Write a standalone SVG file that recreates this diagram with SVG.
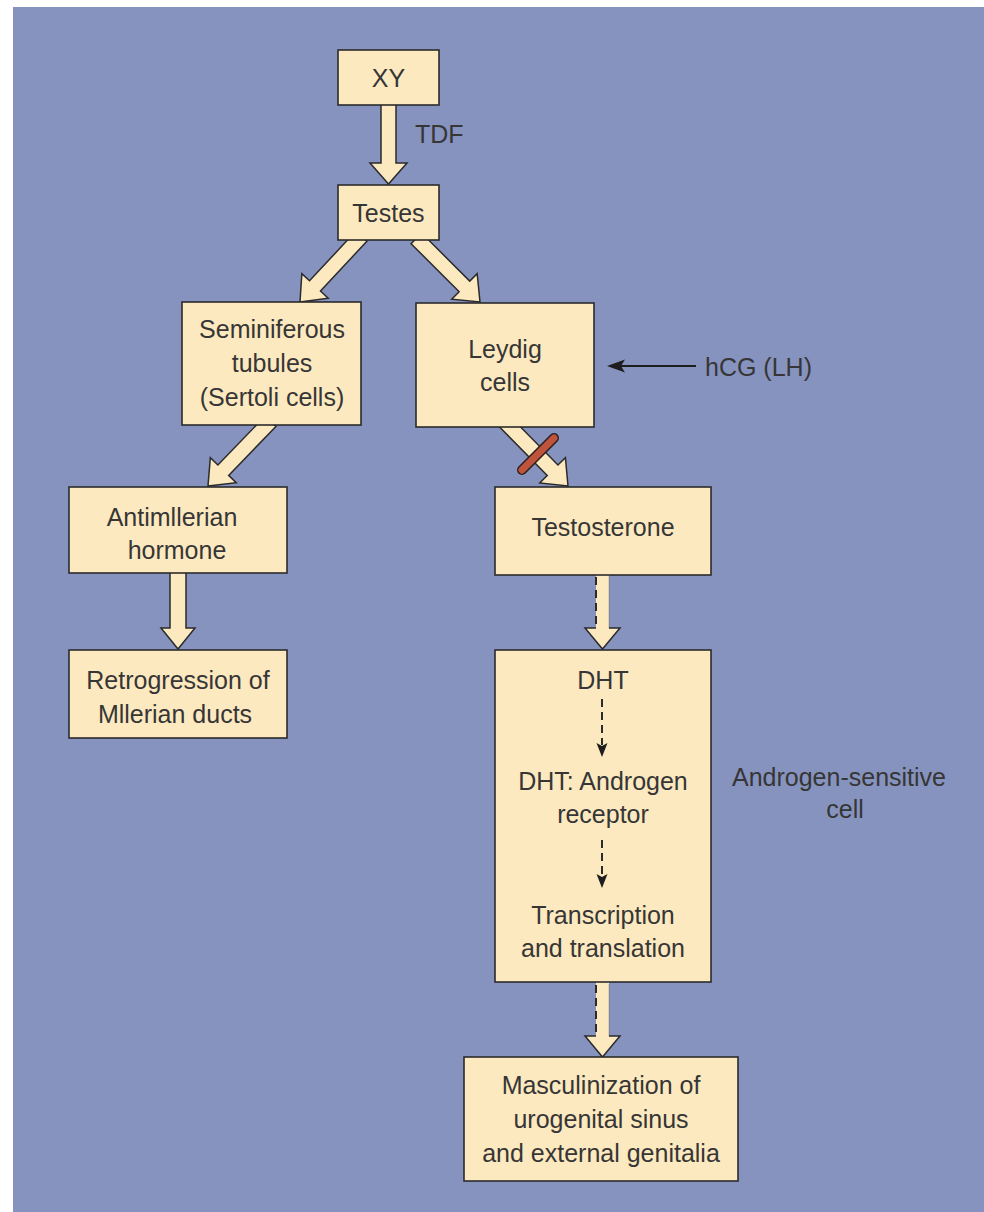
<svg xmlns="http://www.w3.org/2000/svg" width="984" height="1212" viewBox="0 0 984 1212">
<defs>
<style>
.box{fill:#fde9bf;stroke:#2b2b2b;stroke-width:1.6}
.arr{fill:#fde9bf;stroke:#2b2b2b;stroke-width:1.5;stroke-linejoin:miter}
.fillonly{fill:#fde9bf;stroke:none}
.edge{fill:none;stroke:#2b2b2b;stroke-width:1.5}
.dash{fill:none;stroke:#2b2b2b;stroke-width:2;stroke-dasharray:8 5}
.faint{fill:none;stroke:#2b2b2b;stroke-width:1;stroke-opacity:0.25}
.t{font-family:"Liberation Sans",Arial,sans-serif;font-size:25px;fill:#363636;text-anchor:middle}
.ts{font-family:"Liberation Sans",Arial,sans-serif;font-size:25px;fill:#363636;text-anchor:start}
.thin{fill:none;stroke:#1e1e1e;stroke-width:2}
</style>
<polygon id="bigArrow" points="0,0 -22,-18 -22,-7.5 -90,-7.5 -90,7.5 -22,7.5 -22,18"/>
</defs>
<rect x="0" y="0" width="984" height="1212" fill="#ffffff"/>
<rect x="13" y="7" width="971" height="1205" fill="#8793bf"/>

<g id="connectors">
  <!-- XY -> Testes -->
  <polygon class="arr" points="388.5,184 370,163 381,163 381,100 396,100 396,163 407,163"/>
  <!-- Testes -> Seminiferous -->
  <use href="#bigArrow" class="arr" transform="translate(300,302) rotate(133)"/>
  <!-- Testes -> Leydig -->
  <use href="#bigArrow" class="arr" transform="translate(480,302) rotate(45)"/>
  <!-- Seminiferous -> Antimullerian -->
  <use href="#bigArrow" class="arr" transform="translate(208,486) rotate(134)"/>
  <!-- Leydig -> Testosterone -->
  <use href="#bigArrow" class="arr" transform="translate(568,486) rotate(45.5)"/>
  <!-- Antimullerian -> Retrogression -->
  <polygon class="arr" points="178,649 161,628 170,628 170,568 186,568 186,628 195,628"/>
  <!-- Testosterone -> DHT (dashed) -->
  <polygon class="fillonly" points="602.5,649 585,628 596,628 596,570 609,570 609,628 620,628"/>
  <path class="edge" d="M596,628 L585,628 L602.5,649 L620,628 L609,628"/>
  <line class="dash" x1="596" y1="577" x2="596" y2="628"/>
  <line class="faint" x1="609" y1="576" x2="609" y2="628"/>
  <!-- DHT box -> Masculinization (dashed) -->
  <polygon class="fillonly" points="602.5,1057 585,1036 596,1036 596,978 609,978 609,1036 620,1036"/>
  <path class="edge" d="M596,1036 L585,1036 L602.5,1057 L620,1036 L609,1036"/>
  <line class="dash" x1="596" y1="985" x2="596" y2="1036"/>
  <line class="faint" x1="609" y1="984" x2="609" y2="1036"/>
  <!-- hCG -> Leydig -->
  <line class="thin" x1="618" y1="366" x2="696" y2="366"/>
  <polygon points="607,366 625,359.5 621,366 625,372.5" fill="#1e1e1e"/>
</g>

<!-- block bar on Leydig -> Testosterone -->
<line x1="522" y1="470" x2="554" y2="438" stroke="#2b1f1f" stroke-width="10" stroke-linecap="round"/>
<line x1="522" y1="470" x2="554" y2="438" stroke="#c0533b" stroke-width="7" stroke-linecap="round"/>

<g id="node-xy">
  <rect class="box" x="338" y="50" width="101" height="55"/>
  <text class="t" x="388.5" y="87">XY</text>
</g>
<text class="ts" x="415" y="143">TDF</text>

<g id="node-testes">
  <rect class="box" x="338" y="185" width="101" height="55"/>
  <text class="t" x="388.5" y="222">Testes</text>
</g>

<g id="node-seminiferous">
  <rect class="box" x="182" y="302" width="179" height="123"/>
  <text class="t" x="272" y="338">Seminiferous</text>
  <text class="t" x="272" y="372">tubules</text>
  <text class="t" x="272" y="406">(Sertoli cells)</text>
</g>

<g id="node-leydig">
  <rect class="box" x="416" y="303" width="178" height="124"/>
  <text class="t" x="505" y="358">Leydig</text>
  <text class="t" x="505" y="391">cells</text>
</g>

<g id="label-hcg">
  <text class="ts" x="705" y="376">hCG (LH)</text>
</g>

<g id="node-antimullerian">
  <rect class="box" x="69" y="487" width="218" height="86"/>
  <text class="t" x="172" y="526">Antimllerian</text>
  <text class="t" x="177" y="559">hormone</text>
</g>

<g id="node-testosterone">
  <rect class="box" x="495" y="487" width="216" height="88"/>
  <text class="t" x="603" y="536">Testosterone</text>
</g>

<g id="node-retrogression">
  <rect class="box" x="69" y="650" width="218" height="88"/>
  <text class="t" x="178" y="689">Retrogression of</text>
  <text class="t" x="175" y="723">Mllerian ducts</text>
</g>

<g id="node-dht">
  <rect class="box" x="495" y="650" width="216" height="332"/>
  <text class="t" x="603" y="689">DHT</text>
  <line class="dash" x1="602" y1="699" x2="602" y2="745"/>
  <polygon points="602,757 596.5,743 602,746 607.5,743" fill="#1e1e1e"/>
  <text class="t" x="603" y="790">DHT: Androgen</text>
  <text class="t" x="603" y="823">receptor</text>
  <line class="dash" x1="602" y1="840" x2="602" y2="876"/>
  <polygon points="602,888 596.5,874 602,877 607.5,874" fill="#1e1e1e"/>
  <text class="t" x="603" y="924">Transcription</text>
  <text class="t" x="603" y="957">and translation</text>
</g>

<g id="label-androgen-sensitive">
  <text class="ts" x="732" y="786">Androgen-sensitive</text>
  <text class="t" x="845" y="818">cell</text>
</g>

<g id="node-masculinization">
  <rect class="box" x="464" y="1057" width="274" height="124"/>
  <text class="t" x="601" y="1094">Masculinization of</text>
  <text class="t" x="601" y="1128">urogenital sinus</text>
  <text class="t" x="601" y="1162">and external genitalia</text>
</g>
</svg>
